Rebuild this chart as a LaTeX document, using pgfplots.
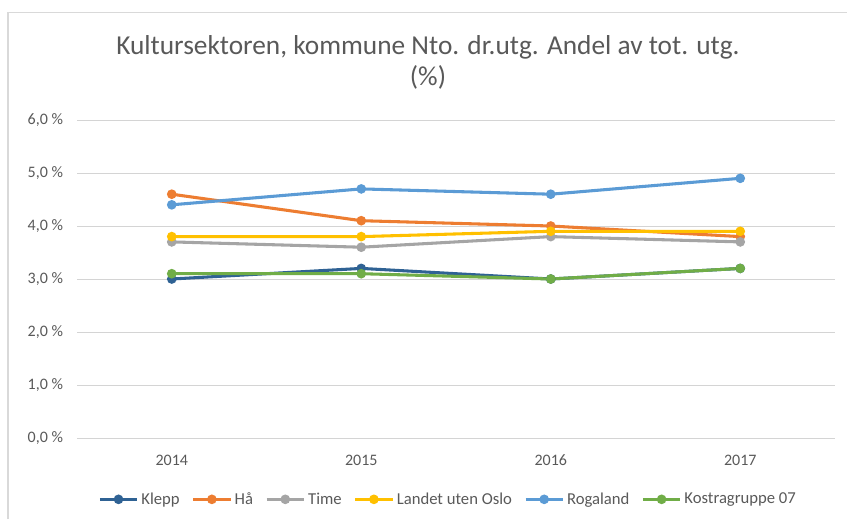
\documentclass[border=0pt]{standalone}
\usepackage{pgfplots}
\pgfplotsset{compat=1.18}
\usepackage{fontspec}
\setmainfont{Carlito}
\definecolor{cKlepp}{HTML}{2F6294}
\definecolor{cHaa}{HTML}{ED7D31}
\definecolor{cTime}{HTML}{A5A5A5}
\definecolor{cLandet}{HTML}{FFC000}
\definecolor{cRoga}{HTML}{5B9BD5}
\definecolor{cKostra}{HTML}{70AD47}
\definecolor{txt}{HTML}{595959}
\begin{document}
\begin{tikzpicture}
\path[use as bounding box] (0,0) rectangle (635.25pt,389.25pt);
\draw[black!15, line width=0.8pt] (6pt,0) -- (6pt,380pt) -- (635.25pt,380pt);
\node[txt, font=\fontsize{20.5}{24}\selectfont] at (321pt,354pt) {Kultursektoren, kommune Nto. dr.utg. Andel av tot. utg.};
\node[txt, font=\fontsize{20.5}{24}\selectfont] at (321pt,331pt) {(\%)};
\begin{axis}[
  scale only axis,
  width=568.5pt, height=238.5pt,
  at={(57.75pt,60.75pt)}, anchor=south west,
  xmin=-0.5, xmax=3.5, ymin=0, ymax=6,
  xtick={0,1,2,3}, xticklabels={2014,2015,2016,2017},
  ytick={0,1,2,3,4,5,6},
  yticklabels={{0,0 \%},{1,0 \%},{2,0 \%},{3,0 \%},{4,0 \%},{5,0 \%},{6,0 \%}},
  ymajorgrids, grid style={draw=black!17, line width=0.7pt},
  axis line style={draw=none},
  tick style={draw=none},
  ticklabel style={font=\fontsize{12}{14}\selectfont, text=txt},
  xticklabel style={yshift=-9pt},
  yticklabel style={xshift=-7pt},
  /pgf/number format/assume math mode=true,
  every axis plot/.append style={line width=2.3pt, mark=*, mark size=2.4pt, mark options={solid}},
  legend columns=-1,
  legend style={draw=none, fill=none, at={(axis description cs:0.49,0)}, anchor=center, yshift=-46pt,
    font=\fontsize{12.5}{14}\selectfont, text=txt,
    /tikz/every even column/.append style={column sep=7pt}},
  legend image code/.code={\draw[mark repeat=2,mark phase=2,#1] plot coordinates {(0pt,0pt)(14pt,0pt)(28pt,0pt)};},
]
\addplot[color=cKlepp] coordinates {(0,3.0)(1,3.2)(2,3.0)(3,3.2)};
\addplot[color=cHaa] coordinates {(0,4.6)(1,4.1)(2,4.0)(3,3.8)};
\addplot[color=cTime] coordinates {(0,3.7)(1,3.6)(2,3.8)(3,3.7)};
\addplot[color=cLandet] coordinates {(0,3.8)(1,3.8)(2,3.9)(3,3.9)};
\addplot[color=cRoga] coordinates {(0,4.4)(1,4.7)(2,4.6)(3,4.9)};
\addplot[color=cKostra] coordinates {(0,3.1)(1,3.1)(2,3.0)(3,3.2)};
\legend{Klepp,Hå,Time,Landet uten Oslo,Rogaland,Kostragruppe 07}
\end{axis}
\end{tikzpicture}
\end{document}
